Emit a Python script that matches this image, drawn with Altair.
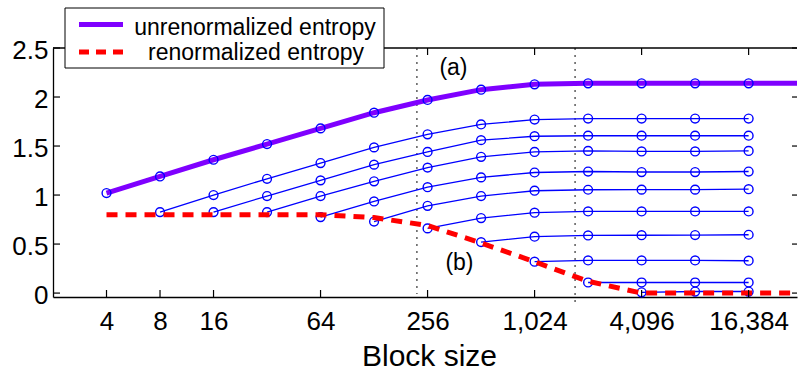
import altair as alt
import pandas as pd

# ---------------- data ----------------
block_sizes = [4, 8, 16, 32, 64, 128, 256, 512, 1024, 2048, 4096, 8192, 16384]
edge_block = 32768  # the two summary curves continue to the right edge

unrenormalized = [1.02, 1.19, 1.36, 1.52, 1.68, 1.84, 1.97, 2.075, 2.13, 2.14, 2.14, 2.14, 2.14]
unrenormalized_edge = 2.14
renormalized = [0.80, 0.80, 0.80, 0.80, 0.80, 0.77, 0.69, 0.51, 0.32, 0.12, 0.0, 0.0, 0.0]
renormalized_edge = 0.0

series_start = [8, 16, 32, 64, 128, 256, 512, 1024, 2048, 4096]
series_values = [
    [0.826, 1.0, 1.166, 1.326, 1.486, 1.62, 1.72, 1.77, 1.78, 1.78, 1.78, 1.78],
    [0.826, 0.99, 1.15, 1.31, 1.44, 1.56, 1.60, 1.605, 1.605, 1.605, 1.605],
    [0.826, 0.99, 1.14, 1.28, 1.39, 1.44, 1.45, 1.445, 1.445, 1.45],
    [0.775, 0.935, 1.08, 1.18, 1.23, 1.24, 1.235, 1.235, 1.24],
    [0.73, 0.89, 0.99, 1.044, 1.054, 1.055, 1.055, 1.06],
    [0.66, 0.765, 0.82, 0.833, 0.833, 0.833, 0.833],
    [0.52, 0.575, 0.588, 0.59, 0.592, 0.595],
    [0.32, 0.333, 0.333, 0.333, 0.33],
    [0.108, 0.108, 0.108, 0.108],
    [0.008, 0.016, 0.016],
]

x_ticks = [4, 8, 16, 64, 256, 1024, 4096, 16384]
y_ticks = [0, 0.5, 1, 1.5, 2, 2.5]
divider_left = [223]
divider_right = [1730]
annot_labels = ["(a)", "(b)"]
annot_x = [358, 387]
annot_y = [2.22, 0.24]
legend_labels = ["unrenormalized entropy", "renormalized entropy"]

# ---------------- tables ----------------
purple_df = pd.DataFrame({"block": block_sizes + [edge_block],
                          "value": unrenormalized + [unrenormalized_edge]})
red_df = pd.DataFrame({"block": block_sizes + [edge_block],
                       "value": renormalized + [renormalized_edge]})
rows = []
for k, (start, vals) in enumerate(zip(series_start, series_values)):
    i0 = block_sizes.index(start)
    for j, v in enumerate(vals):
        rows.append({"series": k, "block": block_sizes[i0 + j], "value": v})
blue_df = pd.DataFrame(rows)
circle_df = pd.concat([
    pd.DataFrame({"series": -1, "block": block_sizes, "value": unrenormalized}),
    blue_df,
], ignore_index=True)
divider_left_df = pd.DataFrame({"block": divider_left})
divider_right_df = pd.DataFrame({"block": divider_right})
xtick_df = pd.DataFrame({"block": x_ticks})
ytick_df = pd.DataFrame({"value": y_ticks})
annot_df = pd.DataFrame({"label": annot_labels, "block": annot_x, "value": annot_y})
one_row = pd.DataFrame({"k": [0]})

# ---------------- layout ----------------
W, H = 744, 249
FONT = "Liberation Sans"
PURPLE = "#7f00ff"
BLUE = "#0000ff"
RED = "#ff0000"

xs = alt.Scale(type="log", base=2, domain=[2, 30660], nice=False)
ys = alt.Scale(domain=[-0.04, 2.5], nice=False, zero=False)

x_axis = alt.Axis(values=x_ticks, format=",d", labelFontSize=26, labelFont=FONT,
                  labelColor="black", ticks=False, tickSize=0, labelPadding=11,
                  grid=False, domainColor="black", domainWidth=1.3,
                  labelFlush=False, labelOverlap=False,
                  title="Block size", titleFont=FONT, titleFontSize=30,
                  titleFontWeight="normal", titleColor="black",
                  titleBaseline="alphabetic", titleY=68, titleX=376, titleAlign="center")
y_axis = alt.Axis(values=y_ticks, format="~g", labelFontSize=26, labelFont=FONT,
                  labelColor="black", ticks=False, tickSize=0, labelPadding=5,
                  labelOffset=2, grid=False, domainColor="black", domainWidth=1.3,
                  labelFlush=False, labelOverlap=False, title=None)

X = alt.X("block:Q", scale=xs, axis=x_axis)
Y = alt.Y("value:Q", scale=ys, axis=y_axis)

dividers_l = alt.Chart(divider_left_df).mark_rule(color="#333333", strokeWidth=1.2,
                                                  strokeDash=[2, 5]).encode(
    x=X, y=alt.value(0), y2=alt.value(H - 3))
dividers_r = alt.Chart(divider_right_df).mark_rule(color="#333333", strokeWidth=1.2,
                                                   strokeDash=[2, 5]).encode(
    x=X, y=alt.value(0), y2=alt.value(H + 6))

blue_lines = alt.Chart(blue_df).mark_line(color=BLUE, strokeWidth=1.3).encode(
    x=X, y=Y, detail="series:N")

purple_line = alt.Chart(purple_df).mark_line(color=PURPLE, strokeWidth=5, clip=True).encode(
    x=X, y=Y)

circles = alt.Chart(circle_df).mark_point(shape="circle", filled=False, color=BLUE,
                                          size=78, strokeWidth=1.4, opacity=1).encode(
    x=X, y=Y)

red_line = alt.Chart(red_df).mark_line(color=RED, strokeWidth=5, strokeDash=[11, 8],
                                       clip=True).encode(x=X, y=Y)

tick_bottom = alt.Chart(xtick_df).mark_rule(color="black", strokeWidth=1.2).encode(
    x=X, y=alt.value(H), y2=alt.value(H - 7))
tick_top = alt.Chart(xtick_df).mark_rule(color="black", strokeWidth=1.2).encode(
    x=X, y=alt.value(0), y2=alt.value(7))
tick_left = alt.Chart(ytick_df).mark_rule(color="black", strokeWidth=1.2).encode(
    y=Y, x=alt.value(0), x2=alt.value(7))
tick_right = alt.Chart(ytick_df).mark_rule(color="black", strokeWidth=1.2).encode(
    y=Y, x=alt.value(W - 5), x2=alt.value(W))
top_border = alt.Chart(one_row).mark_rule(color="black", strokeWidth=1.3).encode(
    x=alt.value(0), x2=alt.value(W), y=alt.value(0))

annotations = alt.Chart(annot_df).mark_text(font=FONT, fontSize=23, color="black",
                                            align="center", baseline="alphabetic").encode(
    x=X, y=Y, text="label:N")

legend_box = alt.Chart(one_row).mark_rect(fill="white", stroke="black", strokeWidth=1).encode(
    x=alt.value(12), x2=alt.value(331), y=alt.value(-40), y2=alt.value(20))
legend_purple = alt.Chart(one_row).mark_rule(color=PURPLE, strokeWidth=5).encode(
    x=alt.value(26), x2=alt.value(70), y=alt.value(-23.5))
legend_red = alt.Chart(one_row).mark_rule(color=RED, strokeWidth=5, strokeDash=[10, 7]).encode(
    x=alt.value(26), x2=alt.value(70), y=alt.value(4))
legend_text1 = alt.Chart(one_row).mark_text(text=legend_labels[0], font=FONT, fontSize=23,
                                            color="black", align="center",
                                            baseline="alphabetic").encode(
    x=alt.value(202), y=alt.value(-13))
legend_text2 = alt.Chart(one_row).mark_text(text=legend_labels[1], font=FONT, fontSize=23,
                                            color="black", align="center",
                                            baseline="alphabetic").encode(
    x=alt.value(203), y=alt.value(12))

chart = alt.layer(
    dividers_l, dividers_r, blue_lines, purple_line, circles, red_line,
    tick_bottom, tick_top, tick_left, tick_right, top_border, annotations,
    legend_box, legend_purple, legend_red, legend_text1, legend_text2,
).properties(
    width=W, height=H,
    padding={"left": 53, "top": 48, "right": 1, "bottom": 77},
    autosize=alt.AutoSizeParams(type="none"),
    background="white",
).configure_view(strokeWidth=0)

chart.save("out.html", embed_options={"renderer": "svg", "actions": False})
